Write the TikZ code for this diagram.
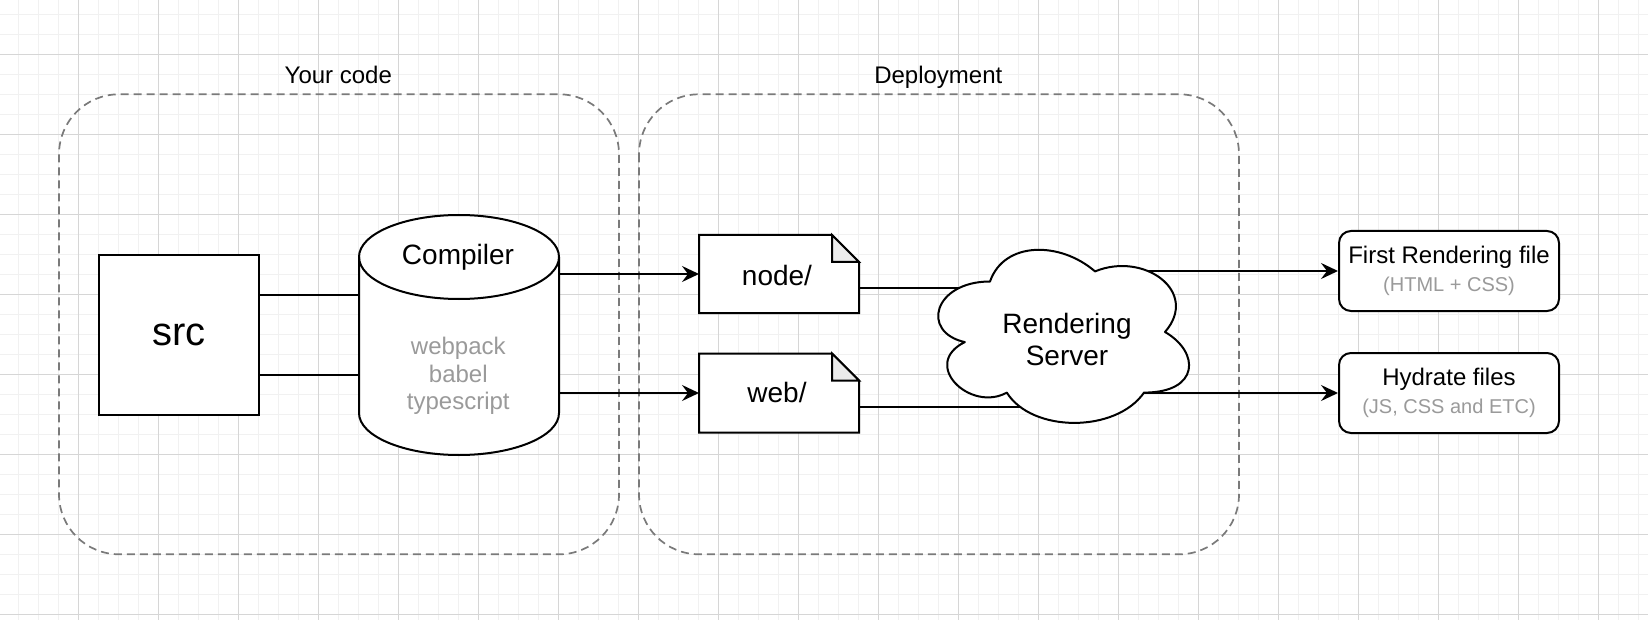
\documentclass[tikz,border=0pt]{standalone}
\usepackage{fontspec}
\setmainfont{Liberation Sans}
\usetikzlibrary{arrows.meta,calc}
\definecolor{gridmajor}{HTML}{D6D6D6}
\definecolor{gridminor}{HTML}{F1F1F1}
\definecolor{dashgray}{HTML}{7A7A7A}
\definecolor{subgray}{HTML}{9A9A9A}
\definecolor{foldgray}{HTML}{EBEBEB}
\tikzset{
  shapeline/.style={draw=black, line width=2pt},
  conn/.style={draw=black, line width=2pt},
  arrowconn/.style={conn, -{Stealth[length=17pt,width=16pt,inset=6pt]}},
  container/.style={draw=dashgray, line width=1.7pt, dash pattern=on 8pt off 5pt, rounded corners=60pt},
  geom/.style={inner sep=0pt, outer sep=0pt, draw=none},
  sqbox/.style={draw=black, line width=2pt, fill=white, inner sep=0pt},
  rbox/.style={draw=black, line width=2pt, fill=white, rounded corners=12pt, minimum width=220pt, minimum height=80pt, align=center, inner sep=0pt, font=\fontsize{24}{28.6}\selectfont},
  grouplabel/.style={anchor=base, font=\fontsize{24}{28}\selectfont},
  biglabel/.style={font=\fontsize{28}{32.4}\selectfont},
}
\newcommand\drawnotefile[1]{%
  \draw[shapeline, fill=white, line join=miter] (#1.north west) -- ([xshift=-27pt]#1.north east) -- ([yshift=-27pt]#1.north east) -- (#1.south east) -- (#1.south west) -- cycle;
  \draw[shapeline, fill=foldgray, line join=miter] ([xshift=-27pt]#1.north east) -- ([xshift=-27pt,yshift=-27pt]#1.north east) -- ([yshift=-27pt]#1.north east) -- cycle;
}
\begin{document}
\begin{tikzpicture}[x=1pt, y=-1pt]
\useasboundingbox (0,0) rectangle (1648,620);
% grid
\begin{scope}
  \clip (0,0) rectangle (1648,620);
  \fill[white] (0,0) rectangle (1648,620);
  \foreach \i in {0,...,83} {\draw[gridminor, line width=1pt] ({-1.7+20*\i},0) -- ({-1.7+20*\i},620);}
  \foreach \j in {-1,...,31} {\draw[gridminor, line width=1pt] (0,{14.3+20*\j}) -- (1648,{14.3+20*\j});}
  \foreach \i in {0,...,21} {\draw[gridmajor, line width=1pt] ({-1.7+80*\i},0) -- ({-1.7+80*\i},620);}
  \foreach \j in {0,...,7} {\draw[gridmajor, line width=1pt] (0,{54.3+80*\j}) -- (1648,{54.3+80*\j});}
\end{scope}
% containers
\draw[container] (59,94.3) rectangle (619,554.3);
\draw[container] (639,94.3) rectangle (1239,554.3);
\node[grouplabel] (yourcode) at (338.3,84) {Your code};
\node[grouplabel] (deploy) at (938.3,84) {Deployment};
% boxes
\node[sqbox, minimum width=160pt, minimum height=160pt, font=\fontsize{40}{48}\selectfont] (src) at (179,335) {src};
\node[rbox] (first) at (1449,271) {First Rendering file\\{\fontsize{20}{28.6}\selectfont\color{subgray}(HTML + CSS)}};
\node[rbox] (hydrate) at (1449,393) {Hydrate files\\{\fontsize{20}{28.6}\selectfont\color{subgray}(JS, CSS and ETC)}};
% geometry nodes for custom shapes
\node[geom, minimum width=200pt, minimum height=240pt] (cyl) at (459,335) {};
\node[geom, minimum width=160pt, minimum height=78pt] (nodefile) at (779,274) {};
\node[geom, minimum width=160pt, minimum height=79pt] (webfile) at (779,393) {};
\node[geom, minimum width=280pt, minimum height=202pt] (cloud) at (1060,332) {};
% connectors
\draw[conn] ([yshift=40pt]src.east) -- ([yshift=40pt]cyl.west);
\draw[conn] ([yshift=-40pt]src.east) -- ([yshift=-40pt]cyl.west);
\draw[arrowconn] (cyl.east |- nodefile.west) -- (nodefile.west);
\draw[arrowconn] (cyl.east |- webfile.west) -- (webfile.west);
\coordinate (n1) at ([yshift=-13.7pt]nodefile.east);
\coordinate (w1) at ([yshift=-13.7pt]webfile.east);
\draw[conn] (n1) -- (n1 -| cloud.center);
\draw[conn] (w1) -- (w1 -| cloud.center);
\draw[arrowconn] (cloud.center |- first.west) -- (first.west);
\draw[arrowconn] (cloud.center |- hydrate.west) -- (hydrate.west);
% cylinder
\draw[shapeline, fill=white] (359,257) -- (359,413) arc[start angle=180,end angle=0,x radius=100,y radius=42] -- (559,257) arc[start angle=0,end angle=-180,x radius=100,y radius=42] -- cycle;
\draw[shapeline] (359,257) arc[start angle=180,end angle=0,x radius=100,y radius=42];
% note files
\drawnotefile{nodefile}
\drawnotefile{webfile}
% cloud
\begin{scope}[shift={(cloud.north west)}]
\draw[shapeline, fill=white, line join=round] (70,50.5)
  .. controls (14,50.5) and (0,101) .. (44.8,111.1)
  .. controls (0,133.3) and (50.4,181.8) .. (86.8,161.6)
  .. controls (112,202) and (196,202) .. (224,161.6)
  .. controls (280,161.6) and (280,121.2) .. (245,101)
  .. controls (280,60.6) and (224,20.2) .. (175,40.4)
  .. controls (140,10.1) and (84,10.1) .. (70,50.5) -- cycle;
\end{scope}
% texts
\node[biglabel, anchor=base] (cyltitle) at (458,265) {Compiler};
\node[align=center, font=\fontsize{24}{27.5}\selectfont, text=subgray] (cyltools) at (458.3,375.8) {webpack\\babel\\typescript};
\node[biglabel, anchor=base] (nodelabel) at (777,285) {node/};
\node[biglabel, anchor=base] (weblabel) at (777,402.7) {web/};
\node[biglabel, align=center] (cloudlabel) at (1067,339.5) {Rendering\\Server};
\end{tikzpicture}
\end{document}
